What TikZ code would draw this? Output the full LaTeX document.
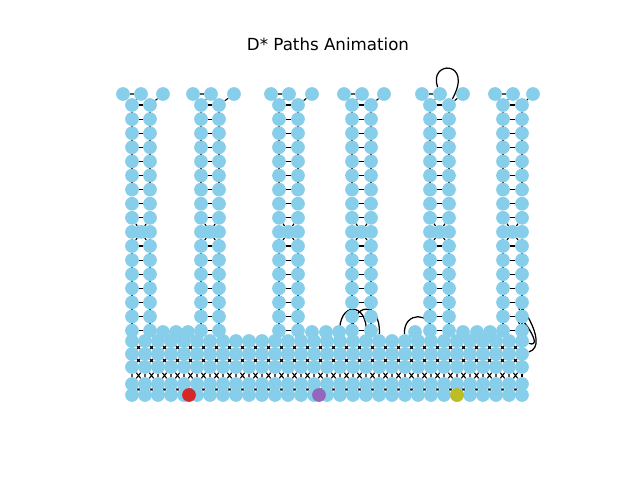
\documentclass[tikz,border=0pt]{standalone}
\usepackage{fontspec}
\setmainfont{DejaVu Sans}
\definecolor{sky}{RGB}{135,206,235}
\definecolor{mplred}{RGB}{214,39,40}
\definecolor{mplpurple}{RGB}{148,103,189}
\definecolor{mplolive}{RGB}{188,189,34}
\pgfdeclarelayer{bg}
\pgfsetlayers{bg,main}
\begin{document}
\begin{tikzpicture}[x=0.72pt,y=-0.72pt,
  vtx/.style={circle,fill=sky,inner sep=0pt,minimum size=9.9pt},
  edge/.style={draw=black,line width=0.8pt},
  curved/.style={draw=black,line width=0.9pt}]
\useasboundingbox (0,0) rectangle (640,480);
\node[font=\fontsize{12}{14}\selectfont] (title) at (328,44) {D* Paths Animation};
% towers
\foreach \t/\l/\r/\a/\b/\c in {1/132/150/123/141/163,2/201/219/193/211/234,3/279/298/271/289/312,4/352/371/344/362/384,5/430/449/422/440/463,6/503/522/495/513/533}{
  \foreach \k in {0,...,16}{
    \node[vtx] (t\t-L\k) at (\l,105+14.1*\k) {};
    \node[vtx] (t\t-R\k) at (\r,105+14.1*\k) {};
  }
  \node[vtx] (t\t-M) at ({(\l+\r)/2},{105+14.1*9}) {};
  \node[vtx] (t\t-A) at (\a,94) {};
  \node[vtx] (t\t-B) at (\b,94) {};
  \node[vtx] (t\t-C) at (\c,94) {};
}
% bottom grid
\foreach \rw/\y in {B/341,C/354,D/367,E/384,F/395}{
  \foreach \j in {0,...,30}{
    \node[vtx] (g\rw\j) at (132+13*\j,\y) {};
  }
}
% partial row between the towers
\foreach \i/\x in {1/163,2/176,3/188,4/312,5/326,6/339,7/415,8/463,9/477,10/490}{
  \node[vtx] (a\i) at (\x,332) {};
}
\node[vtx,fill=mplred] (start) at (189,395) {};
\node[vtx,fill=mplpurple] (mid) at (319,395) {};
\node[vtx,fill=mplolive] (goal) at (457,395) {};
\begin{pgfonlayer}{bg}
\foreach \t in {1,...,6}{
  \foreach \k [evaluate=\k as \n using int(\k+1)] in {0,...,15}{
    \draw[edge] (t\t-L\k) -- (t\t-L\n) (t\t-R\k) -- (t\t-R\n);
  }
  \foreach \k in {0,...,16}{\draw[edge] (t\t-L\k) -- (t\t-R\k);}
  \draw[edge] (t\t-A) -- (t\t-B) (t\t-C) -- (t\t-R0) (t\t-B) -- (t\t-L0);
  \draw[edge] (t\t-L8) -- (t\t-M) -- (t\t-R10) (t\t-R8) -- (t\t-M) -- (t\t-L10);
}
\foreach \rw in {B,C,D,E,F}{
  \foreach \j [evaluate=\j as \n using int(\j+1)] in {0,...,29}{
    \draw[edge] (g\rw\j) -- (g\rw\n);
  }
}
\foreach \rw/\s in {B/C,C/D,D/E,E/F}{
  \foreach \j [evaluate=\j as \n using int(\j+1)] in {0,...,29}{
    \draw[edge] (g\rw\j) -- (g\s\n) (g\s\j) -- (g\rw\n) (g\rw\j) -- (g\s\j);
  }
  \draw[edge] (g\rw30) -- (g\s30);
}
\foreach \i/\q in {1/2,2/3,3/4,4/14,5/15,6/16,7/22,8/25,9/26,10/28}{
  \draw[edge] (a\i) -- (gB\q);
}
\foreach \t/\p/\q in {1/0/1,2/5/7,3/11/13,4/17/18,5/23/24,6/29/30}{
  \draw[edge] (t\t-L16) -- (gB\p) (t\t-R16) -- (gB\q);
}
\draw[curved] (t5-B) .. controls (428,60) and (474,60) .. (t5-R0);
\draw[curved] (gB16) .. controls +(-2,-40) and +(2,-40) .. (gB18);
\draw[curved] (gB17) .. controls +(-2,-40) and +(2,-40) .. (gB19);
\draw[curved] (gB21) .. controls +(-2,-30) and +(2,-30) .. (gB23);
\draw[curved] (t6-R15) .. controls (512,290) and (552,345) .. (gC30);
\draw[curved] (t6-R16) .. controls (510,300) and (548,350) .. (gB30);
\end{pgfonlayer}
\end{tikzpicture}
\end{document}
